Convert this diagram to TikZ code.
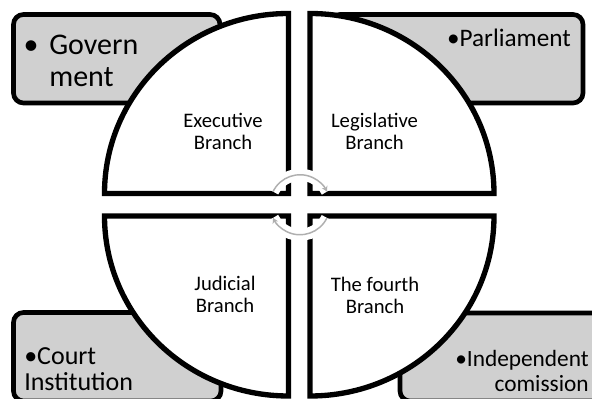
\documentclass[tikz,border=0pt]{standalone}
\usepackage{fontspec}
\setmainfont{Carlito}
\usetikzlibrary{arrows.meta}
\definecolor{cardgray}{RGB}{208,208,208}
\definecolor{cyclegray}{RGB}{175,175,175}

\begin{document}
\begin{tikzpicture}[x=0.75pt, y=0.75pt,
    sector/.style = {draw, fill=white, line width=4pt},
    card/.style = {draw, fill=cardgray, line width=3.5pt, rounded corners=7.5pt},
    branch/.style = {anchor=base, font=\fontsize{15.5}{16.5}\selectfont},
    cycle/.style = {draw=cyclegray, line width=1.1pt, -{Stealth[length=4pt,width=4.5pt]},
                    preaction={draw=white, line width=9pt, -}}]
    \useasboundingbox (0,0) rectangle (592,399);
    \clip (0,0) rectangle (592,399);
    %cards behind the circle
    \draw[card] (13.5,296) rectangle (220,384.5);
    \draw[card] (330,296) rectangle (583,384.5);
    \draw[card] (13.5,-2) rectangle (221,86.5);
    \draw[card] (400,-2) rectangle (610,86);
    %the four branches
    \draw[sector] (288.5,205.5) -- ++(0,180) arc[start angle=90, end angle=180, x radius=184, y radius=180] -- cycle;
    \draw[sector] (310,205.5) -- ++(184,0) arc[start angle=0, end angle=90, x radius=184, y radius=180] -- cycle;
    \draw[sector] (288.5,183) -- ++(-184,0) arc[start angle=180, end angle=270, x radius=184, y radius=180] -- cycle;
    \draw[sector] (310,183) -- ++(0,-180) arc[start angle=270, end angle=360, x radius=184, y radius=180] -- cycle;
    %cycle in the middle
    \coordinate (mid) at (300,194.25);
    \draw[cycle] (mid) ++(154:30) arc[start angle=154, end angle=26, radius=30];
    \draw[cycle] (mid) ++(-26:30) arc[start angle=-26, end angle=-154, radius=30];
    %labels
    \node[branch] (exe) at (223,271) {\begin{tabular}[t]{@{}c@{}}Executive\\Branch\end{tabular}};
    \node[branch] (leg) at (374.5,271) {\begin{tabular}[t]{@{}c@{}}Legislative\\Branch\end{tabular}};
    \node[branch] (jud) at (225,108) {\begin{tabular}[t]{@{}c@{}}Judicial\\Branch\end{tabular}};
    \node[branch] (fourth) at (375,107) {\begin{tabular}[t]{@{}c@{}}The fourth\\Branch\end{tabular}};
    \node[anchor=base west, font=\fontsize{22.5}{24}\selectfont] (gov) at (19,344)
        {\begin{tabular}[t]{@{}l@{\hspace{8pt}}l@{}}\textbullet & Govern\\ & ment\end{tabular}};
    \node[anchor=base east, inner sep=0pt, font=\fontsize{18.9}{20}\selectfont] (parl) at (571,352) {\textbullet Parliament};
    \node[anchor=base west, inner sep=0pt, font=\fontsize{19.5}{19.5}\selectfont] (court) at (24,34)
        {\begin{tabular}[t]{@{}l@{}}\textbullet Court\\Institution\end{tabular}};
    \node[anchor=base east, inner sep=0pt, font=\fontsize{17.5}{18.75}\selectfont] (indep) at (589,32)
        {\begin{tabular}[t]{@{}r@{}}\textbullet Independent\\comission\end{tabular}};
\end{tikzpicture}
\end{document}
